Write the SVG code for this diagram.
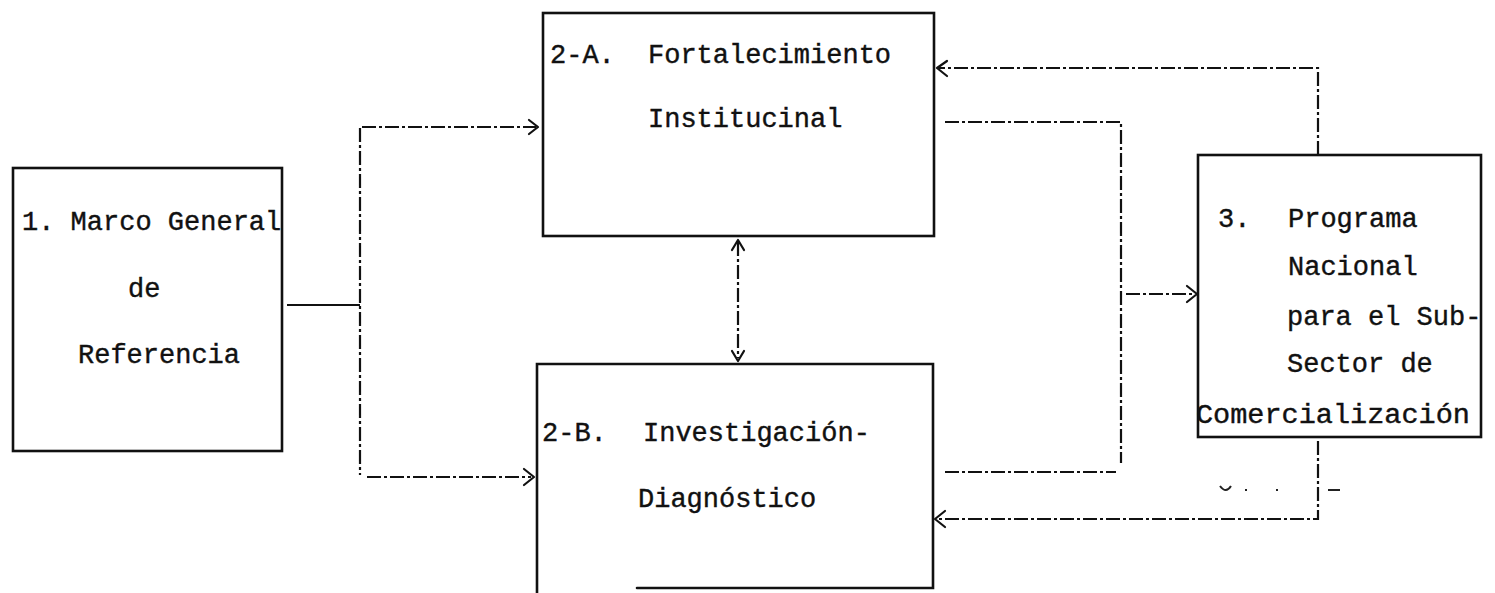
<svg xmlns="http://www.w3.org/2000/svg" width="1495" height="593" viewBox="0 0 1495 593">
<defs>
<style>
.box{fill:none;stroke:#111;stroke-width:2.6;stroke-linecap:round}
.c{fill:none;stroke:#111;stroke-width:2.2;stroke-dasharray:14 3 3 3}
.s{fill:none;stroke:#111;stroke-width:2.2}
.ah{fill:none;stroke:#111;stroke-width:2.2;stroke-linecap:round;stroke-linejoin:round}
.t{font-family:"Liberation Mono","Courier New",monospace;font-size:27px;fill:#111;stroke:#111;stroke-width:0.4}
.m{fill:none;stroke:#222;stroke-width:2}
</style>
</defs>
<rect width="1495" height="593" fill="#fff"/>
<g id="node1">
<rect class="box" x="13" y="168" width="269" height="283"/>
<text class="t" x="22" y="230">1. Marco General</text>
<text class="t" x="128" y="297">de</text>
<text class="t" x="78" y="363">Referencia</text>
</g>
<g id="node2A">
<rect class="box" x="543" y="13" width="391" height="223"/>
<text class="t" y="63"><tspan x="550">2-A.</tspan><tspan x="648">Fortalecimiento</tspan></text>
<text class="t" x="648" y="127">Institucinal</text>
</g>
<g id="node2B">
<path class="box" d="M537 593 V364 H933 V588 H637"/>
<text class="t" y="441"><tspan x="542">2-B.</tspan><tspan x="643">Investigación-</tspan></text>
<text class="t" x="638" y="507">Diagnóstico</text>
</g>
<g id="node3">
<rect class="box" x="1198" y="155" width="283" height="282"/>
<text class="t" y="227"><tspan x="1218">3.</tspan><tspan x="1288">Programa</tspan></text>
<text class="t" x="1288" y="275">Nacional</text>
<text class="t" x="1287" y="325">para el Sub-</text>
<text class="t" x="1287" y="372">Sector de</text>
<text class="t" x="1196" y="423" textLength="274" lengthAdjust="spacingAndGlyphs">Comercialización</text>
</g>
<g id="connectors">
<path class="s" d="M287 305 H360"/>
<path class="c" d="M360 128 V475"/>
<path class="c" d="M362 127 H536"/>
<path class="ah" d="M529 120 L538 127 L529 134"/>
<path class="c" d="M367 477 H531"/>
<path class="ah" d="M524 469 L534 477 L524 485"/>
<path class="c" d="M738 242 V358"/>
<path class="ah" d="M732 250 L738 240 L744 250"/>
<path class="ah" d="M732 351 L738 361 L744 351"/>
<path class="c" d="M945 122 H1121 V463"/>
<path class="c" d="M945 472 H1116"/>
<path class="c" d="M1126 294 H1195"/>
<path class="ah" d="M1187 286 L1197 294 L1187 302"/>
<path class="c" d="M1318 155 V68 H939"/>
<path class="ah" d="M947 61 L937 68 L947 76"/>
<path class="c" d="M1318 441 V519 H937"/>
<path class="ah" d="M945 511 L935 519 L945 527"/>
</g>
<g id="marks">
<path class="m" d="M1220 486 Q1226 494 1231 486"/>
<path class="m" d="M1245 490 h2 M1276 490 h2 M1328 490 h12"/>
</g>
</svg>
